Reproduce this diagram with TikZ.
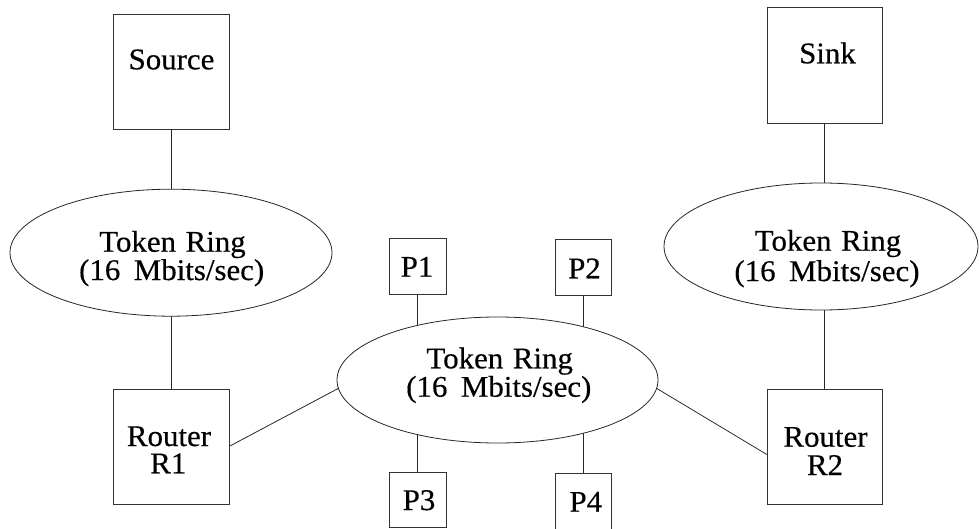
\documentclass[tikz,border=0pt]{standalone}
\usepackage{fontspec}
\setmainfont{Liberation Serif}[FakeStretch=1.03,FakeBold=0.4]
\usetikzlibrary{shapes.geometric,backgrounds}
\begin{document}
\begin{tikzpicture}[x=1pt,y=-1pt,
  every node/.style={inner sep=0pt, outer sep=0pt},
  unitbox/.style={rectangle, draw=black!80, line width=0.8pt, fill=white},
  ring/.style={ellipse, draw=black!85, line width=0.8pt, fill=white},
  lbl/.style={anchor=base, font=\fontsize{30}{30}\selectfont},
  wire/.style={draw=black!85, line width=0.8pt}]
\useasboundingbox (0,0) rectangle (979,529);

% hosts and routers
\node[unitbox, minimum width=116pt, minimum height=115pt] (src) at (171,71.5) {};
\node[unitbox, minimum width=115pt, minimum height=116pt] (snk) at (824.5,65) {};
\node[unitbox, minimum width=116pt, minimum height=115pt] (r1) at (171,446.5) {};
\node[unitbox, minimum width=115pt, minimum height=115pt] (r2) at (824.5,446.5) {};

% stations on the central ring
\node[unitbox, minimum width=57pt, minimum height=56pt] (p1) at (417.5,266) {};
\node[unitbox, minimum width=56pt, minimum height=56pt] (p2) at (583,267) {};
\node[unitbox, minimum width=57pt, minimum height=55pt] (p3) at (417.5,499.5) {};
\node[unitbox, minimum width=56pt, minimum height=57pt] (p4) at (583,501.5) {};

% token rings
\node[ring, minimum width=322pt, minimum height=127pt] (ellL) at (171,252.7) {};
\node[ring, minimum width=321pt, minimum height=126pt] (ellM) at (497.5,380) {};
\node[ring, minimum width=314pt, minimum height=127pt] (ellR) at (821,246.5) {};

% labels
\node[lbl] (srcT) at (171.5,69.3) {Source};
\node[lbl] (snkT) at (827.5,63.3) {Sink};
\node[lbl] (r1a) at (169,446) {Router};
\node[lbl] (r1b) at (168.3,473.3) {R1};
\node[lbl] (r2a) at (825.5,446.7) {Router};
\node[lbl] (r2b) at (825,475) {R2};
\node[lbl] (p1T) at (417,276.7) {P1};
\node[lbl] (p2T) at (584.5,278.3) {P2};
\node[lbl] (p3T) at (419,510) {P3};
\node[lbl] (p4T) at (585.8,511.7) {P4};

\node[lbl] (ellLa) at (172.5,251.7) {Token\hspace{0.32em}Ring};
\node[lbl] (ellLb) at (171.7,280) {(16\hspace{0.45em}Mbits/sec)};
\node[lbl] (ellMa) at (499.7,368.3) {Token\hspace{0.32em}Ring};
\node[lbl] (ellMb) at (498.8,396.7) {(16\hspace{0.45em}Mbits/sec)};
\node[lbl] (ellRa) at (828,250.7) {Token\hspace{0.32em}Ring};
\node[lbl] (ellRb) at (827,281) {(16\hspace{0.45em}Mbits/sec)};

% links, kept behind the filled shapes
\begin{scope}[on background layer]
  \draw[wire] (src.south) -- (ellL.north);
  \draw[wire] (ellL.south) -- (r1.north);
  \draw[wire] (snk.south) -- (snk.south |- ellR.center);
  \draw[wire] (r2.north) -- (r2.north |- ellR.center);
  \draw[wire] (r1.east) -- (ellM.183);
  \draw[wire] (ellM.-3.6) -- (r2.188);
  \draw[wire] (p1.south) -- (p1.south |- ellM.center);
  \draw[wire] (p2.south) -- (p2.south |- ellM.center);
  \draw[wire] (p3.north) -- (p3.north |- ellM.center);
  \draw[wire] (p4.north) -- (p4.north |- ellM.center);
\end{scope}
\end{tikzpicture}
\end{document}
